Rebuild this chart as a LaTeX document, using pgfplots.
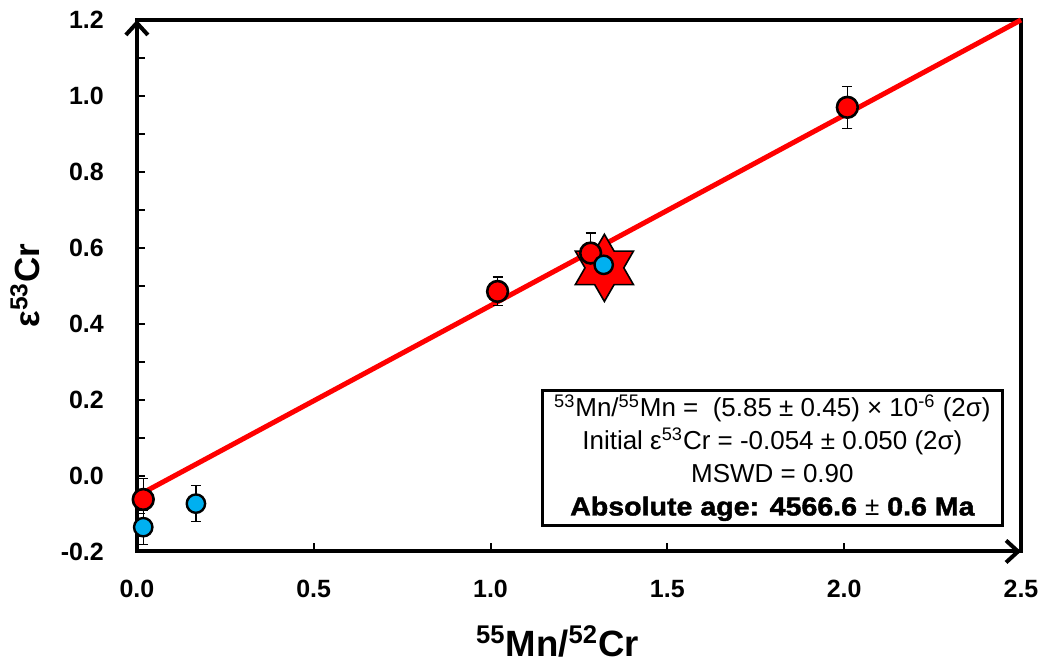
\documentclass[border=0pt]{standalone}
\usepackage{pgfplots}
\pgfplotsset{compat=1.18}
\usepackage{fontspec}
\setmainfont{Liberation Sans}
\newfontfamily\blackfont[BoldFeatures={FakeBold=1.6,FakeStretch=1.1}]{Liberation Sans}
\usetikzlibrary{arrows.meta}
\definecolor{myred}{RGB}{255,0,0}
\definecolor{myblue}{RGB}{0,176,240}
\pgfdeclareplotmark{sixstar}{%
  \pgfpathmoveto{\pgfpointpolar{90}{\pgfplotmarksize}}%
  \pgfpathlineto{\pgfpointpolar{120}{0.57735\pgfplotmarksize}}%
  \pgfpathlineto{\pgfpointpolar{150}{\pgfplotmarksize}}%
  \pgfpathlineto{\pgfpointpolar{180}{0.57735\pgfplotmarksize}}%
  \pgfpathlineto{\pgfpointpolar{210}{\pgfplotmarksize}}%
  \pgfpathlineto{\pgfpointpolar{240}{0.57735\pgfplotmarksize}}%
  \pgfpathlineto{\pgfpointpolar{270}{\pgfplotmarksize}}%
  \pgfpathlineto{\pgfpointpolar{300}{0.57735\pgfplotmarksize}}%
  \pgfpathlineto{\pgfpointpolar{330}{\pgfplotmarksize}}%
  \pgfpathlineto{\pgfpointpolar{0}{0.57735\pgfplotmarksize}}%
  \pgfpathlineto{\pgfpointpolar{30}{\pgfplotmarksize}}%
  \pgfpathlineto{\pgfpointpolar{60}{0.57735\pgfplotmarksize}}%
  \pgfpathclose
  \pgfusepathqfillstroke}
\begin{document}
\begin{tikzpicture}
\begin{axis}[
  name=ax,
  scale only axis,
  width=442.5pt, height=266pt,
  xmin=0, xmax=2.5, ymin=-0.2, ymax=1.2,
  clip=false,
  axis line style={line width=2pt, black},
  xtick={0,0.5,1,1.5,2,2.5},
  xticklabels={0.0,0.5,1.0,1.5,2.0,2.5},
  ytick={-0.2,0,0.2,0.4,0.6,0.8,1.0,1.2},
  yticklabels={-0.2,0.0,0.2,0.4,0.6,0.8,1.0,1.2},
  minor y tick num=1,
  tick align=inside,
  major tick length=4pt, minor tick length=4pt,
  every tick/.style={black, line width=1pt},
  every minor tick/.style={black, line width=1pt},
  xtick pos=bottom, ytick pos=left,
  ticklabel style={font=\fontsize{12.5}{15}\selectfont\bfseries},
  yticklabel style={xshift=-13pt},
  xticklabel style={yshift=-11pt},
]
\addplot[myred, line width=2.5pt, no marks] coordinates {(0.018,-0.045) (2.5,1.200)};
\addplot[only marks, mark=sixstar, mark size=16.8pt, mark options={fill=myred, draw=black, line width=0.8pt}] coordinates {(1.322,0.547)};
\addplot[only marks, mark=*, mark size=5.2pt, mark options={fill=myred, draw=black, line width=1.3pt},
  error bars/.cd, y dir=both, y explicit,
  error bar style={black, line width=0.6pt},
  error mark options={rotate=90, mark size=2.5pt, black, line width=0.6pt}]
  coordinates {
  (0.018,-0.063) +- (0,0.055)
  (1.020,0.485) +- (0,0.038)
  (1.283,0.586) +- (0,0.053)
  (2.009,0.970) +- (0,0.055)
  };
\addplot[only marks, mark=*, mark size=4.6pt, mark options={fill=myblue, draw=black, line width=1.2pt},
  error bars/.cd, y dir=both, y explicit,
  error bar style={black, line width=0.6pt},
  error mark options={rotate=90, mark size=2.5pt, black, line width=0.6pt}]
  coordinates {
  (0.018,-0.136) +- (0,0.045)
  (0.167,-0.074) +- (0,0.047)
  (1.320,0.555) +- (0,0.042)
  };
\draw[line width=2pt, -{Straight Barb[length=6pt,width=11pt,line width=2pt]}] (rel axis cs:0,0) -- (rel axis cs:0,1);
\draw[line width=2pt, -{Straight Barb[length=6pt,width=11pt,line width=2pt]}] (rel axis cs:0,0) -- (rel axis cs:1,0);
\node[draw=black, line width=1.5pt, fill=white, align=center, minimum width=230pt, minimum height=67.5pt,
  inner sep=2pt, font=\fontsize{13}{16.5}\selectfont] at (axis cs:1.797,0.046)
  {\textsuperscript{53}Mn/\textsuperscript{55}Mn =\ \ (5.85 ± 0.45) × 10\textsuperscript{-6} (2σ)\\
   Initial ε\textsuperscript{53}Cr = -0.054 ± 0.050 (2σ)\\
   MSWD = 0.90\\
   {\blackfont\bfseries Absolute age: 4566.6 \textmd{±} 0.6 Ma}};
\end{axis}
\node[rotate=90, anchor=base, font=\fontsize{17.5}{20}\selectfont\bfseries] at ([xshift=-48.5pt]ax.west) {ε\textsuperscript{53}Cr};
\node[anchor=base, font=\fontsize{18.3}{20}\selectfont\bfseries] at ([xshift=-10.75pt,yshift=-52.5pt]ax.south) {\textsuperscript{55}Mn/\textsuperscript{52}Cr};
\path ([xshift=-68.5pt,yshift=-55.5pt]ax.south west) rectangle ([xshift=11.5pt,yshift=10pt]ax.north east);
\end{tikzpicture}
\end{document}
